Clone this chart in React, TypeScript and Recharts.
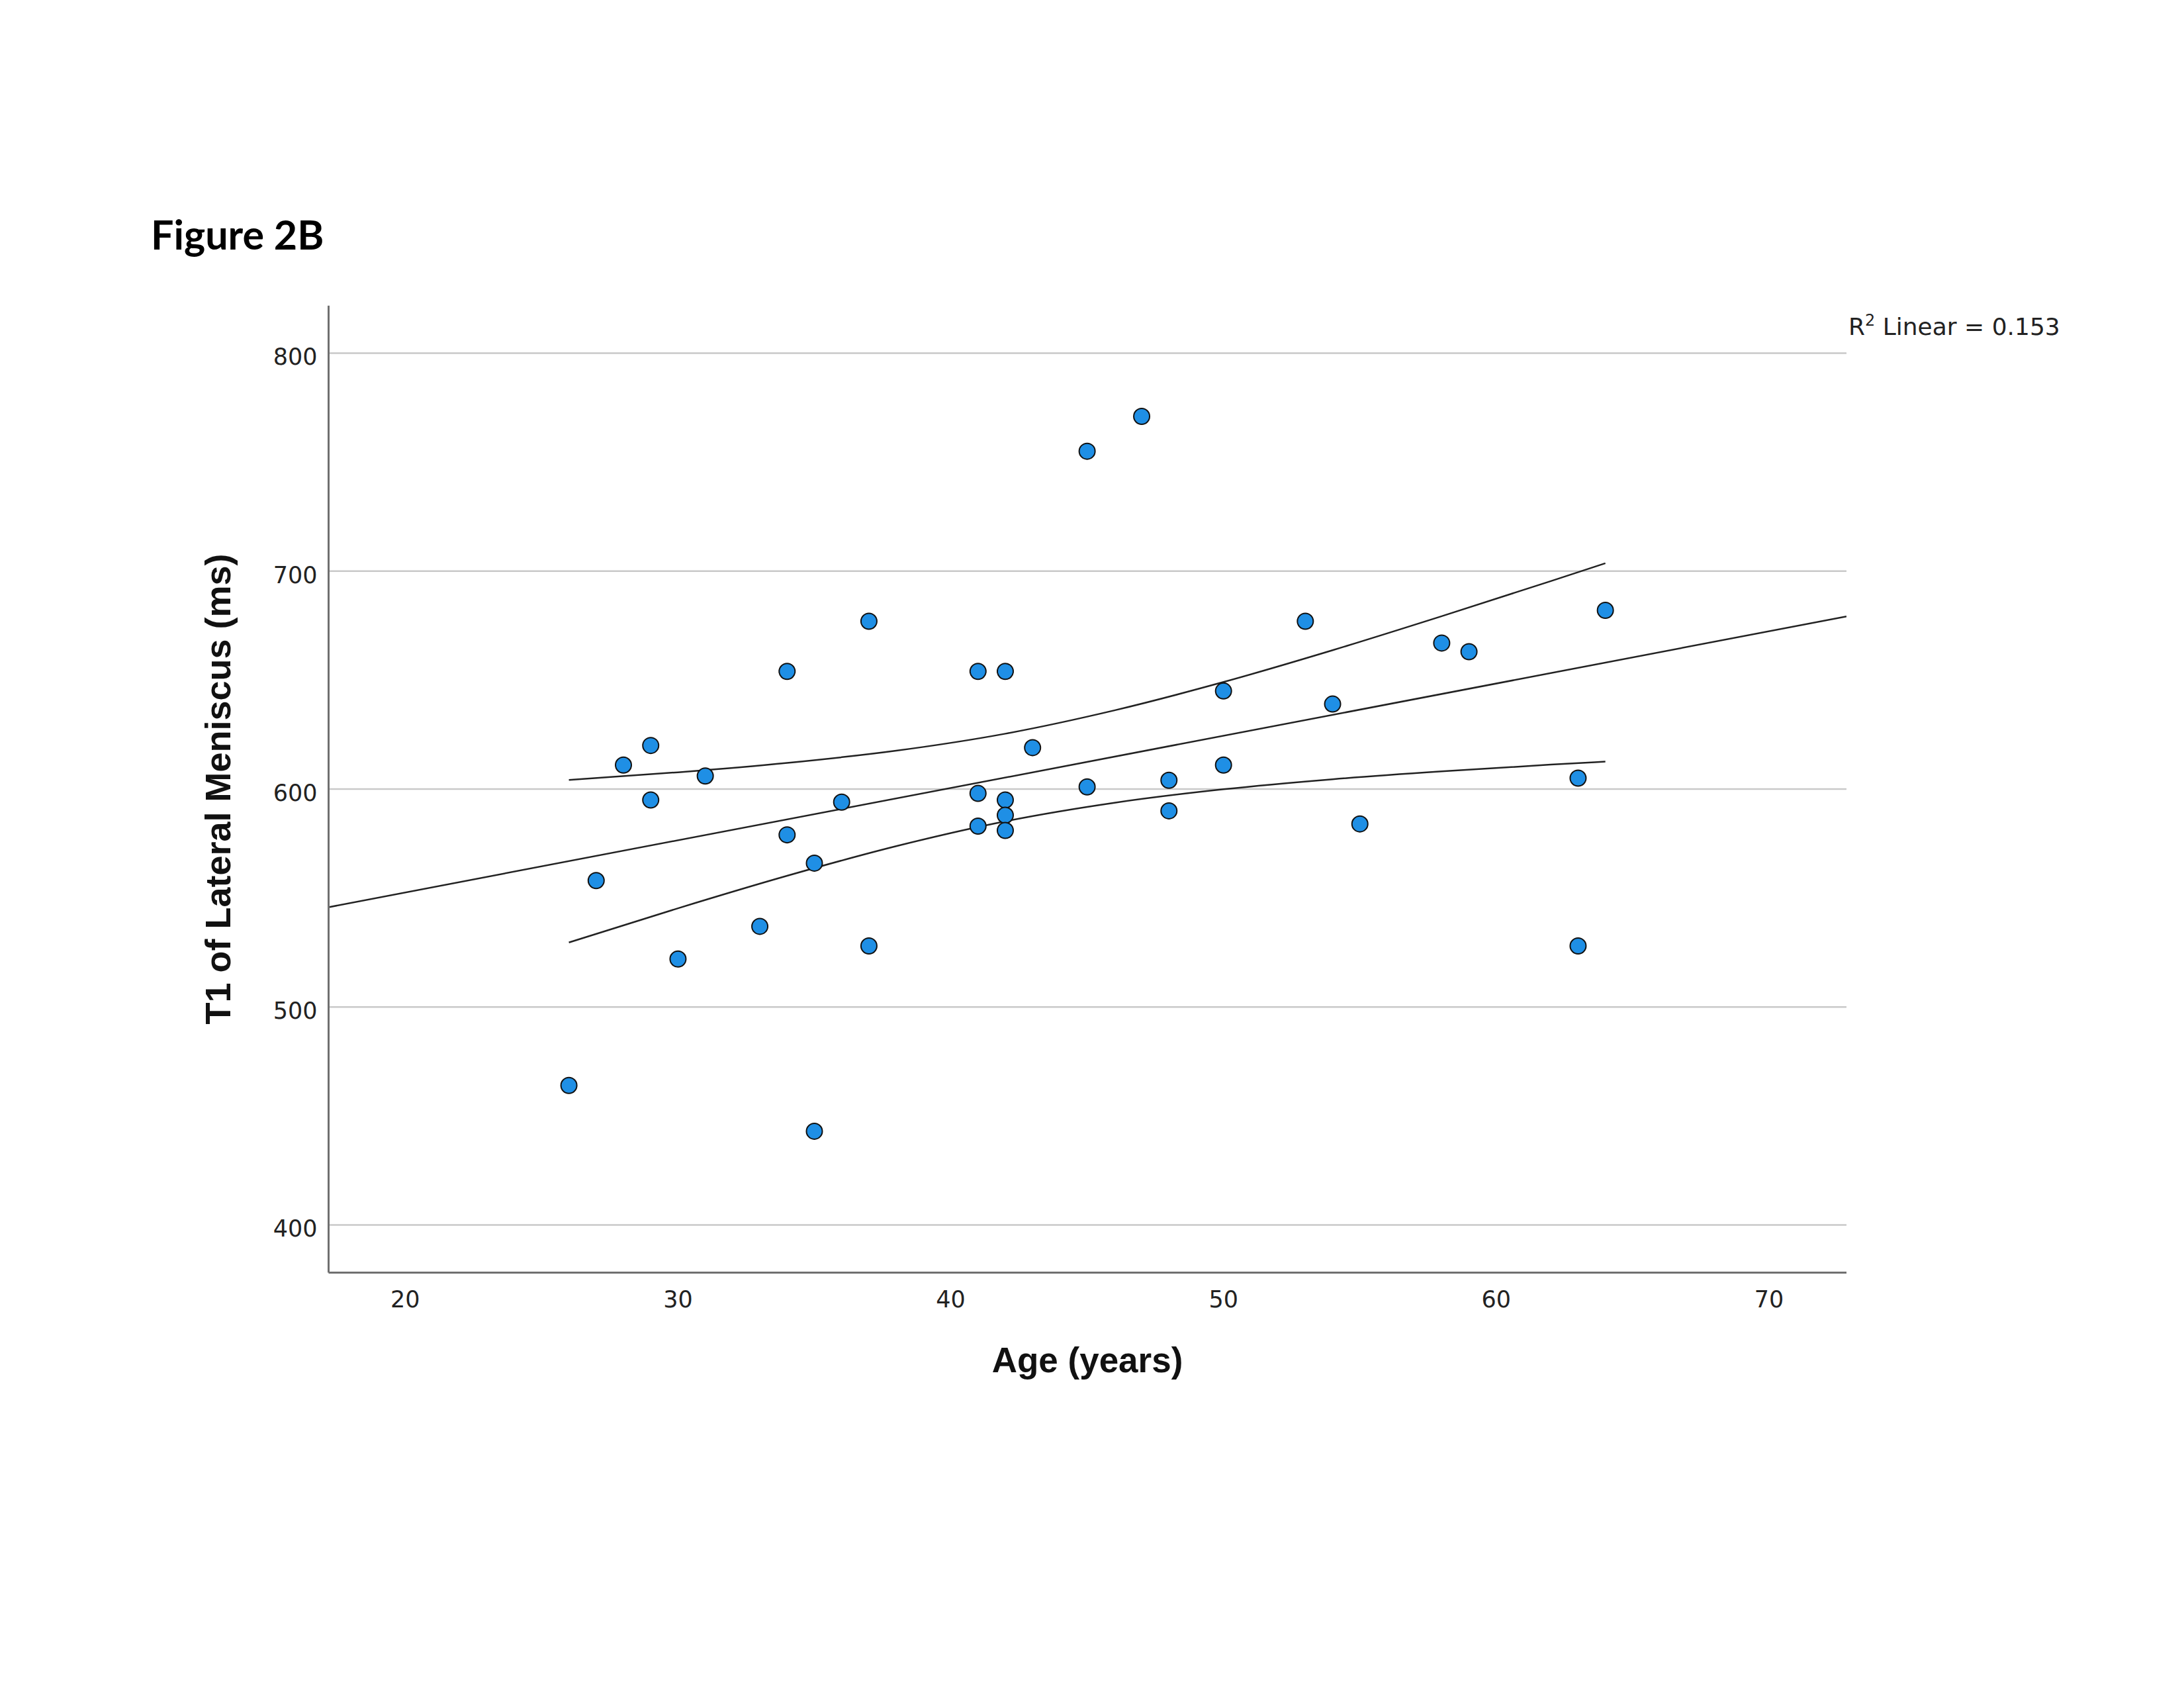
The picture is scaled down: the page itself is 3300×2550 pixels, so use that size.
import { ComposedChart, Line, ReferenceLine, Scatter, XAxis, YAxis } from "recharts"

// age (years) and T1 of lateral meniscus (ms), one entry per subject
const ages = [26, 27, 28, 29, 29, 30, 31, 33, 34, 34, 35, 35, 36, 37, 37, 41, 41, 41, 42, 42, 42, 42, 43, 45, 45, 47, 48, 48, 50, 50, 53, 54, 55, 58, 59, 63, 63, 64]
const t1 = [464, 558, 611, 620, 595, 522, 606, 537, 654, 579, 566, 443, 594, 677, 528, 654, 598, 583, 654, 595, 588, 581, 619, 755, 601, 771, 604, 590, 645, 611, 677, 639, 584, 667, 663, 605, 528, 682]

// linear fit, read at the two edges of the plot
const fitAge = [17.19, 72.84]
const fitT1 = [545.8, 679.2]

// 95% confidence band of the mean
const ciAge = [26, 30, 34, 38, 42, 46, 50, 54, 58, 62, 64]
const ciUpper = [604.2, 607.7, 612.0, 617.6, 625.4, 636.1, 649.1, 663.7, 679.3, 695.4, 703.6]
const ciLower = [529.6, 545.3, 560.2, 573.8, 585.2, 593.7, 599.9, 604.5, 608.1, 611.2, 612.6]

const xTicks = [20, 30, 40, 50, 60, 70]
const yTicks = [400, 500, 600, 700, 800]

const points = ages.map((a, i) => ({ x: a, y: t1[i] }))
const fitLine = fitAge.map((a, i) => ({ x: a, y: fitT1[i] }))
const upperLine = ciAge.map((a, i) => ({ x: a, y: ciUpper[i] }))
const lowerLine = ciAge.map((a, i) => ({ x: a, y: ciLower[i] }))

const tickFont = "DejaVu Sans, Verdana, sans-serif"
const titleFont = "Liberation Sans, Arial, sans-serif"

function XTick(props: any) {
  const { x, y, payload } = props
  return (
    <text x={x} y={y + 40} textAnchor="middle" dominantBaseline="central" fontFamily={tickFont} fontSize={35} fill="#222">
      {payload.value}
    </text>
  )
}

function YTick(props: any) {
  const { x, y, payload } = props
  return (
    <text x={x - 17} y={y + 6} textAnchor="end" dominantBaseline="central" fontFamily={tickFont} fontSize={35} fill="#222">
      {payload.value}
    </text>
  )
}

function Dot(props: any) {
  const { cx, cy } = props
  return <circle cx={cx} cy={cy} r={12} fill="#1f8fe5" stroke="#111" strokeWidth={2} />
}

export default function App() {
  return (
    <div style={{ position: "absolute", left: 0, top: 0, width: 3300, height: 2550, background: "#fff" }}>
      <ComposedChart
        width={3300}
        height={2550}
        margin={{ top: 461.7, right: 510, bottom: 567.4, left: 376.5 }}
      >
        {yTicks.map((v) => (
          <ReferenceLine key={v} y={v} stroke="#c9c9c9" strokeWidth={2.5} />
        ))}
        <XAxis
          type="number"
          dataKey="x"
          domain={[17.19, 72.84]}
          ticks={xTicks}
          allowDataOverflow
          height={60}
          tickSize={0}
          tickMargin={0}
          tickLine={false}
          axisLine={{ stroke: "#707070", strokeWidth: 3 }}
          tick={<XTick />}
        />
        <YAxis
          type="number"
          dataKey="y"
          domain={[378.1, 821.8]}
          ticks={yTicks}
          allowDataOverflow
          width={120}
          tickSize={0}
          tickMargin={0}
          tickLine={false}
          axisLine={{ stroke: "#707070", strokeWidth: 3 }}
          tick={<YTick />}
        />
        <Scatter data={points} shape={<Dot />} isAnimationActive={false} />
        <Line data={fitLine} dataKey="y" type="linear" stroke="#222" strokeWidth={2.5} dot={false} activeDot={false} isAnimationActive={false} />
        <Line data={upperLine} dataKey="y" type="monotone" stroke="#222" strokeWidth={2.5} dot={false} activeDot={false} isAnimationActive={false} />
        <Line data={lowerLine} dataKey="y" type="monotone" stroke="#222" strokeWidth={2.5} dot={false} activeDot={false} isAnimationActive={false} />
      </ComposedChart>
      <svg width={3300} height={2550} style={{ position: "absolute", left: 0, top: 0, pointerEvents: "none" }}>
        <text x={228} y={377} fontFamily="Lato, sans-serif" fontWeight="bold" fontSize={61} fill="#000">
          Figure 2B
        </text>
        <text x={2793} y={506} fontFamily={tickFont} fontSize={36} fill="#222">
          R<tspan fontSize={24} dy={-14}>2</tspan>
          <tspan dy={14}> Linear = 0.153</tspan>
        </text>
        <text x={1643} y={2073} textAnchor="middle" fontFamily={titleFont} fontWeight="bold" fontSize={53} fill="#111">
          Age (years)
        </text>
        <text transform="translate(348, 1192) rotate(-90)" textAnchor="middle" fontFamily={titleFont} fontWeight="bold" fontSize={54} fill="#111">
          T1 of Lateral Meniscus (ms)
        </text>
      </svg>
    </div>
  )
}
